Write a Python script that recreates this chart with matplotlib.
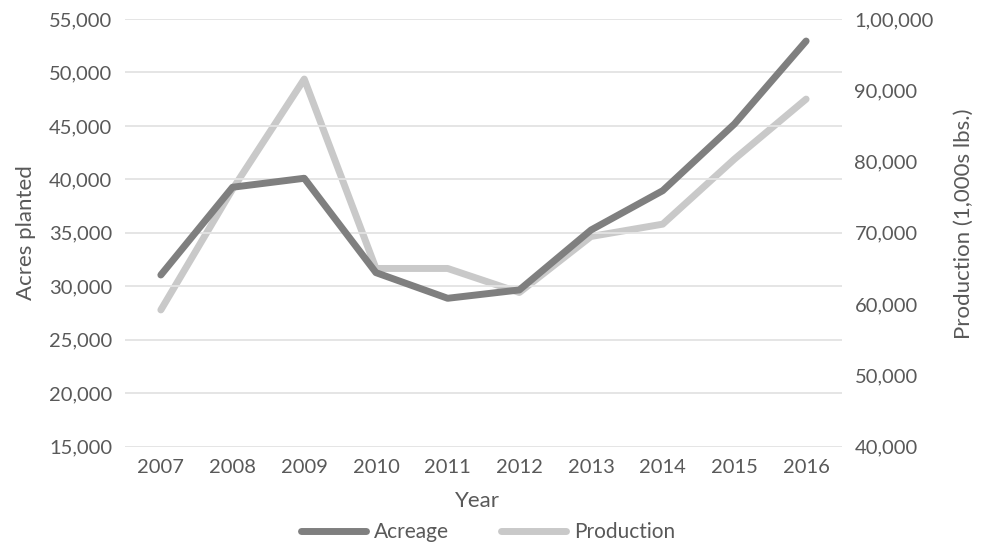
import matplotlib
matplotlib.use("Agg")
import matplotlib.pyplot as plt
from matplotlib.ticker import FuncFormatter, MultipleLocator
from matplotlib.lines import Line2D

years = ["2007", "2008", "2009", "2010", "2011", "2012", "2013", "2014", "2015", "2016"]
acreage = [31050, 39260, 40100, 31270, 28870, 29650, 35260, 38940, 45180, 52940]
production = [59170, 76120, 91570, 64990, 64990, 61620, 69480, 71210, 80340, 88760]

dark = "#7f7f7f"
light = "#c9c9c9"
text_c = "#595959"
grid_c = "#e3e3e3"

plt.rcParams["font.family"] = ["Lato", "DejaVu Sans"]
plt.rcParams["font.size"] = 14.5

fig = plt.figure(figsize=(9.82, 5.45), dpi=100)
ax = fig.add_axes([0.1273, 0.1807, 0.7301, 0.7844])
ax2 = ax.twinx()

x = list(range(len(years)))
ax.plot(x, acreage, color=dark, lw=5, solid_joinstyle="round", solid_capstyle="round", zorder=3)
ax2.plot(x, production, color=light, lw=5, solid_joinstyle="round", solid_capstyle="round", zorder=3)
ax.set_zorder(ax2.get_zorder() + 1)
ax.patch.set_visible(False)


def indian(v, pos=None):
    s = str(int(round(v)))
    if len(s) <= 3:
        return s
    last3 = s[-3:]
    rest = s[:-3]
    parts = []
    while len(rest) > 2:
        parts.insert(0, rest[-2:])
        rest = rest[:-2]
    if rest:
        parts.insert(0, rest)
    return ",".join(parts + [last3])


ax.set_xlim(-0.5, len(years) - 0.5)
ax.set_ylim(15000, 55000)
ax.yaxis.set_major_locator(MultipleLocator(5000))
ax.yaxis.set_major_formatter(FuncFormatter(lambda v, p: f"{int(v):,}"))
ax2.set_ylim(40000, 100000)
ax2.yaxis.set_major_locator(MultipleLocator(10000))
ax2.yaxis.set_major_formatter(FuncFormatter(indian))

ax.set_xticks(x)
ax.set_xticklabels(years)
ax.grid(axis="y", color=grid_c, lw=1.3)
ax.set_axisbelow(True)

for a in (ax, ax2):
    for sp in a.spines.values():
        sp.set_visible(False)
    a.tick_params(length=0, colors=text_c, labelsize=14.5)

ax.tick_params(axis="y", pad=9)
ax2.tick_params(axis="y", pad=9)
ax.tick_params(axis="x", pad=9)

ax.set_xlabel("Year", color=text_c, fontsize=16)
ax.set_ylabel("Acres planted", color=text_c, fontsize=16)
ax2.set_ylabel("Production (1,000s lbs.)", color=text_c, fontsize=16, rotation=90)
ax.xaxis.set_label_coords(0.492, -0.103)
ax.yaxis.set_label_coords(-0.124, 0.5)
ax2.yaxis.set_label_coords(1.156, 0.52)

handles = [
    Line2D([], [], color=dark, lw=5, solid_capstyle="round"),
    Line2D([], [], color=light, lw=5, solid_capstyle="round"),
]
fig.legend(handles, ["Acreage", "Production"], loc="center",
           bbox_to_anchor=(488 / 982, 1 - 532 / 545), ncol=2, frameon=False,
           handlelength=3.1, columnspacing=2.5, handletextpad=0.4,
           labelcolor=text_c, fontsize=15, borderpad=0.2)

fig.savefig("out.png", dpi=100, facecolor="white")
